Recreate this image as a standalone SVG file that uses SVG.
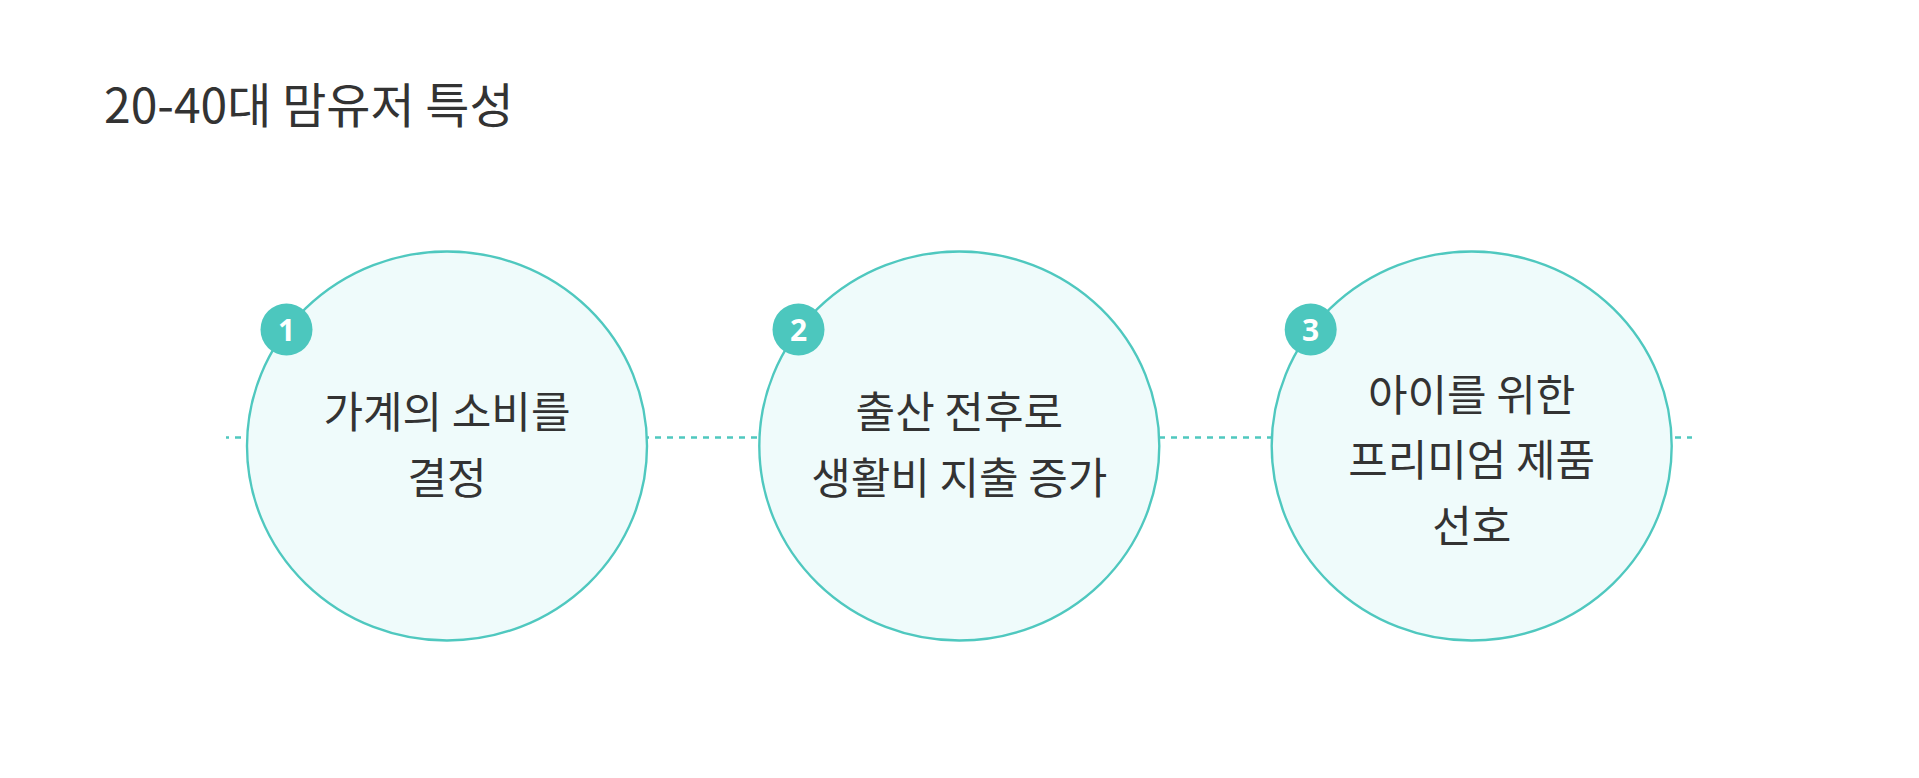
<svg xmlns="http://www.w3.org/2000/svg" width="1919" height="778" viewBox="0 0 1919 778">
<style>
.title{font-family:"Noto Sans CJK KR","Noto Sans",sans-serif;font-size:48px;font-weight:400;fill:#333333;}
.ring{fill:#effbfb;stroke:#4fc8bf;stroke-width:2.4;}
.badge{fill:#4cc7be;}
.num{font-family:"Noto Sans","Noto Sans CJK KR",sans-serif;font-size:30px;font-weight:700;fill:#ffffff;text-anchor:middle;}
.lbl{font-family:"Noto Sans CJK KR","Noto Sans",sans-serif;font-size:43px;font-weight:400;fill:#333333;text-anchor:middle;}
.conn{stroke:#4fc8bf;stroke-width:2.4;stroke-dasharray:6 6;stroke-dashoffset:3;fill:none;}
</style>
<rect width="1919" height="778" fill="#ffffff"/>
<text class="title" x="104" y="123">20-40대 맘유저 특성</text>
<g id="connectors">
<line class="conn" x1="226" y1="437.5" x2="1692" y2="437.5"/>
</g>
<g id="node1">
<ellipse class="ring" cx="447" cy="446" rx="200" ry="194.5"/>
<circle class="badge" cx="286.5" cy="329.5" r="26"/>
<text class="num" x="286.5" y="340.5">1</text>
<text class="lbl" x="447" y="428">가계의 소비를</text>
<text class="lbl" x="447" y="494">결정</text>
</g>
<g id="node2">
<ellipse class="ring" cx="959.3" cy="446" rx="200" ry="194.5"/>
<circle class="badge" cx="798.5" cy="329.5" r="26"/>
<text class="num" x="798.5" y="340.5">2</text>
<text class="lbl" x="959.3" y="428">출산 전후로</text>
<text class="lbl" x="959.3" y="494">생활비 지출 증가</text>
</g>
<g id="node3">
<ellipse class="ring" cx="1471.7" cy="446" rx="200" ry="194.5"/>
<circle class="badge" cx="1310.7" cy="329.5" r="26"/>
<text class="num" x="1310.7" y="340.5">3</text>
<text class="lbl" x="1471.7" y="411">아이를 위한</text>
<text class="lbl" x="1471.7" y="476">프리미엄 제품</text>
<text class="lbl" x="1471.7" y="542">선호</text>
</g>
</svg>
